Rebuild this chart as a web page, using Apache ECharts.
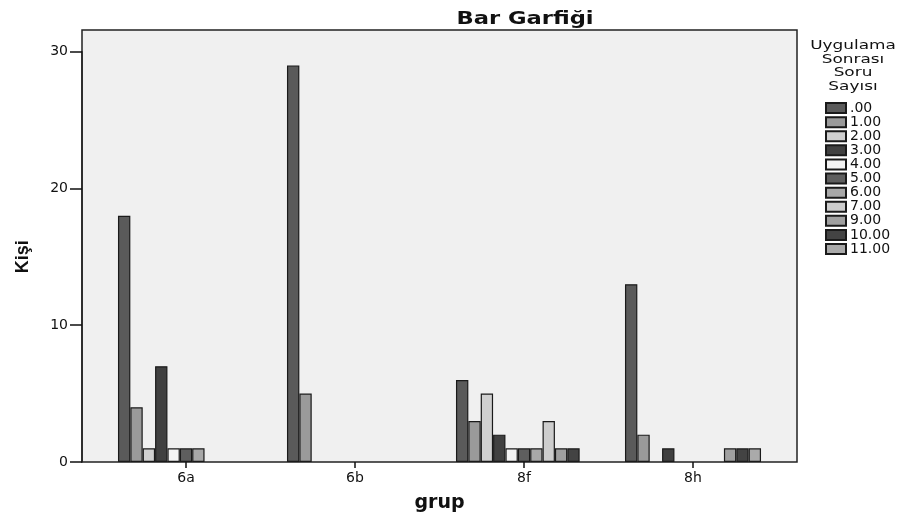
<!DOCTYPE html>
<html>
<head>
<meta charset="utf-8">
<script src="https://cdn.jsdelivr.net/npm/echarts@6/dist/echarts.min.js"></script>
<style>html,body{margin:0;padding:0;background:#fff}#c{width:910px;height:512px}</style>
</head>
<body>
<div id="c"></div>
<script>
const categories = ['6a', '6b', '8f', '8h'];
const seriesNames = ['.00', '1.00', '2.00', '3.00', '4.00', '5.00', '6.00', '7.00', '9.00', '10.00', '11.00'];
const v00 = [18, 29, 6, 13];
const v01 = [4, 5, 3, 2];
const v02 = [1, 0, 5, 0];
const v03 = [7, 0, 2, 1];
const v04 = [1, 0, 1, 0];
const v05 = [1, 0, 1, 0];
const v06 = [1, 0, 1, 0];
const v07 = [0, 0, 3, 0];
const v09 = [0, 0, 1, 1];
const v10 = [0, 0, 1, 1];
const v11 = [0, 0, 0, 1];
const yTicks = [0, 10, 20, 30];
const seriesValues = [v00, v01, v02, v03, v04, v05, v06, v07, v09, v10, v11];
const colors = ['#5a5a5a', '#9a9a9a', '#d0d0d0', '#404040', '#f4f4f4', '#5e5e5e', '#a8a8a8', '#cdcdcd', '#a0a0a0', '#434343', '#aaaaaa'];

const FONT = 'DejaVu Sans';
const chart = echarts.init(document.getElementById('c'));
chart.setOption({
  animation: false,
  backgroundColor: '#ffffff',
  graphic: [
    { type: 'text', x: 525, y: 11, scaleX: 1.33, style: { text: 'Bar Garfiği', fontFamily: FONT, fontWeight: 'bold', fontSize: 17, fill: '#111', textAlign: 'center', textVerticalAlign: 'top' } },
    { type: 'text', x: 853, y: 39, scaleX: 1.3, style: { text: 'Uygulama\nSonrası\nSoru\nSayısı', fontFamily: FONT, fontSize: 13, lineHeight: 13.6, fill: '#111', textAlign: 'center', textVerticalAlign: 'top' } }
  ],
  legend: {
    orient: 'vertical', left: 825, top: 101, padding: 0, itemWidth: 20, itemHeight: 10, itemGap: 0,
    icon: 'rect',
    textStyle: { fontFamily: FONT, fontSize: 14, color: '#111', lineHeight: 14.1, padding: [0, 0, 0, -1] },
    data: seriesNames
  },
  grid: [
    { left: 82, top: 30, width: 715, height: 432, show: true, backgroundColor: '#f0f0f0', borderColor: '#222', borderWidth: 1.5, outerBoundsMode: 'none', containLabel: false },
    { left: 101.5, top: 462 - 410.3, width: 676, height: 410.3, outerBoundsMode: 'none', containLabel: false }
  ],
  xAxis: [
    { gridIndex: 0, type: 'value', show: false, min: 0, max: 1 },
    { gridIndex: 1, type: 'category', data: categories,
      axisLine: { show: false },
      axisTick: { show: true, alignWithLabel: true, length: 6, lineStyle: { color: '#111', width: 1.5 } },
      axisLabel: { fontFamily: FONT, fontSize: 14, color: '#111', margin: 9 },
      name: 'grup', nameLocation: 'middle', nameGap: 32,
      nameTextStyle: { fontFamily: FONT, fontSize: 19, fontWeight: 'bold', color: '#111' }
    }
  ],
  yAxis: [
    { gridIndex: 0, type: 'value', show: false, min: 0, max: 1 },
    { gridIndex: 1, type: 'value', min: yTicks[0], max: yTicks[yTicks.length - 1], interval: 10, offset: 19.5,
      splitLine: { show: false },
      axisLine: { show: true, lineStyle: { color: '#222', width: 1.5 } },
      axisTick: { show: true, length: 12, lineStyle: { color: '#111', width: 1.5 } },
      axisLabel: { fontFamily: FONT, fontSize: 14, color: '#111', margin: 14 },
      name: 'Kişi', nameLocation: 'middle', nameGap: 50, nameRotate: 90,
      nameTextStyle: { fontFamily: 'Liberation Sans', fontSize: 18, fontWeight: 'bold', color: '#111' }
    }
  ],
  series: seriesNames.map((n, i) => ({
    name: n, type: 'bar', xAxisIndex: 1, yAxisIndex: 1,
    barGap: '0%', barCategoryGap: '19.5%',
    itemStyle: { color: colors[i], borderColor: '#1a1a1a', borderWidth: 1.2 },
    data: seriesValues[i].map(v => (v === 0 ? '-' : v))
  }))
});
</script>
</body>
</html>
